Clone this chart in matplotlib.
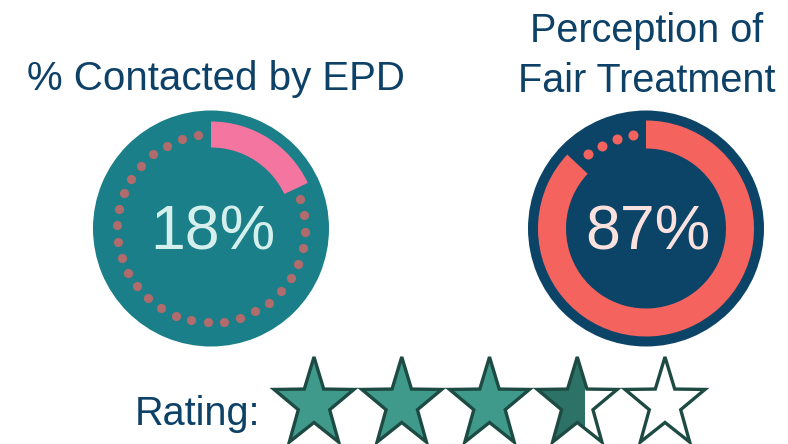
import numpy as np
import matplotlib
matplotlib.use("Agg")
import matplotlib.pyplot as plt
from matplotlib.patches import Polygon, Rectangle

plt.rcParams['font.family'] = ['Liberation Sans', 'DejaVu Sans']

# ---- data ----
gauge_titles = ["% Contacted by EPD", "Perception of\nFair Treatment"]
gauge_values = [18, 87]          # percent
gauge_labels = ["18%", "87%"]
rating_label = "Rating:"
rating_value = 3.6
rating_max = 5

W, H = 788, 444
fig = plt.figure(figsize=(W / 100, H / 100), dpi=100)
fig.patch.set_facecolor("white")

title_color = "#0e4167"

# gauge styles
styles = [
    dict(cx=211, cy=228.5, R=118, bg="#1a7f88", arc="#f476a0", dot="#b06c6c",
         txt="#d4efec", r_in=81, r_out=107, ds=44),
    dict(cx=646, cy=228.5, R=118, bg="#0c4468", arc="#f4635e", dot="#f4635e",
         txt="#fbe2df", r_in=80, r_out=108, ds=52),
]

for val, lab, st in zip(gauge_values, gauge_labels, styles):
    R = st["R"]
    ax = fig.add_axes([(st["cx"] - R) / W, (H - st["cy"] - R) / H, 2 * R / W, 2 * R / H],
                      projection="polar")
    ax.set_theta_zero_location("N")
    ax.set_theta_direction(-1)
    ax.set_ylim(0, R)
    ax.set_facecolor(st["bg"])
    ax.grid(False)
    ax.set_xticks([])
    ax.set_yticks([])
    ax.spines["polar"].set_visible(False)
    frac = val / 100.0
    ax.bar(0, st["r_out"] - st["r_in"], width=2 * np.pi * frac, bottom=st["r_in"],
           align="edge", color=st["arc"], linewidth=0)
    # dotted remainder
    end_deg = 360 * frac
    dot_deg = np.arange(352, end_deg + 2, -10.0)
    dot_r = (st["r_in"] + st["r_out"]) / 2
    ax.scatter(np.deg2rad(dot_deg), np.full(dot_deg.shape, dot_r), s=st["ds"],
               color=st["dot"], linewidths=0, zorder=3)
    ax.text(0.5 + 2 / (2 * R), (R - 21.5) / (2 * R), lab, transform=ax.transAxes,
            ha="center", va="baseline", fontsize=45, color=st["txt"])

# overlay axes in pixel coordinates for titles and rating
ov = fig.add_axes([0, 0, 1, 1])
ov.set_xlim(0, W)
ov.set_ylim(H, 0)
ov.axis("off")
ov.patch.set_alpha(0)

ov.text(215.5, 90, gauge_titles[0], ha="center", va="baseline", fontsize=29,
        color=title_color)
ov.text(647, 92, gauge_titles[1], ha="center", va="baseline", fontsize=28.5,
        color=title_color, linespacing=1.39, multialignment="center")

ov.text(135, 425, rating_label, ha="left", va="baseline", fontsize=28.5,
        color=title_color)

# stars
star_fill = "#3f9a8c"
star_part = "#2d7266"
star_edge = "#1d4b43"
Rs, rs, sy = 42, 16.5, 1.12
cy = 404
x0, dx = 314, 87.75
ang = np.deg2rad(90 + np.arange(10) * 36)
rad = np.where(np.arange(10) % 2 == 0, Rs, rs)
for i in range(rating_max):
    cx = x0 + i * dx
    pts = np.column_stack([cx + rad * np.cos(ang), cy - rad * np.sin(ang) * sy])
    f = np.clip(rating_value - i, 0, 1)
    if f >= 1:
        ov.add_patch(Polygon(pts, closed=True, facecolor=star_fill, edgecolor="none"))
    else:
        ov.add_patch(Polygon(pts, closed=True, facecolor="white", edgecolor="none"))
        if f > 0:
            part = Polygon(pts, closed=True, facecolor=star_part, edgecolor="none")
            ov.add_patch(part)
            left = cx - Rs * np.sin(np.deg2rad(72))
            clip = Rectangle((left, 300), 2 * Rs * np.sin(np.deg2rad(72)) * f, 200,
                             transform=ov.transData, visible=False)
            ov.add_patch(clip)
            part.set_clip_path(clip)
    ov.add_patch(Polygon(pts, closed=True, facecolor="none", edgecolor=star_edge,
                         linewidth=2.4, joinstyle="miter"))

fig.savefig("out.png", dpi=100, facecolor="white")
